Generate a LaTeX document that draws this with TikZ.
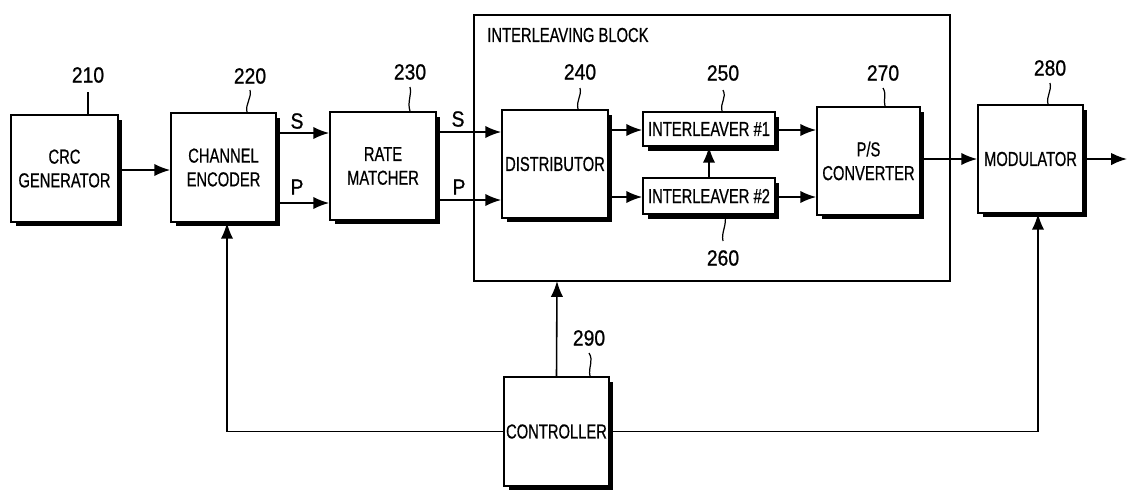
\documentclass[tikz,border=0pt]{standalone}
\usepackage{fontspec}
\setmainfont{Liberation Sans}
\newfontfamily\cond[FakeStretch=0.73,FakeBold=0.6]{Liberation Sans}
\newfontfamily\numf[FakeStretch=0.88,FakeBold=0.8]{Liberation Sans}
\usetikzlibrary{arrows.meta,shadows}
\tikzset{
  blk/.style={draw, line width=1pt, fill=white, inner sep=1pt, align=center,
    font=\cond\fontsize{11.5}{13.5}\selectfont,
    drop shadow={shadow xshift=0.09cm, shadow yshift=-0.09cm, opacity=1, fill=black}},
  arr/.style={line width=0.9pt, -{Latex[length=9pt,width=7pt]}},
  num/.style={font=\numf\fontsize{12.5}{12}\selectfont, inner sep=0pt},
  sig/.style={font=\numf\fontsize{12.5}{12}\selectfont, inner sep=0pt},
  lead/.style={line width=0.7pt},
}
\begin{document}
\begin{tikzpicture}[x=0.02cm,y=-0.02cm]
\useasboundingbox (0,0) rectangle (1130,491);
% interleaving block
\draw[line width=0.7pt] (474,15) rectangle (950,281);
\node[anchor=west, inner sep=0pt, font=\cond\fontsize{11.5}{12}\selectfont] (ibl) at (487,35) {INTERLEAVING BLOCK};
\coordinate (iblk) at (557,281);
% boxes
\node[blk, minimum width=2.14cm, minimum height=2.14cm] (crc) at (64.5,168.5) {CRC\\GENERATOR};
\node[blk, minimum width=2.1cm, minimum height=2.18cm] (enc) at (223.5,167.5) {CHANNEL\\ENCODER};
\node[blk, minimum width=2.12cm, minimum height=2.16cm] (rate) at (383,166) {RATE\\MATCHER};
\node[blk, minimum width=2.12cm, minimum height=2.16cm] (dist) at (555,164) {DISTRIBUTOR};
\node[blk, minimum width=2.64cm, minimum height=0.68cm] (il1) at (709,129) {INTERLEAVER \#1};
\node[blk, minimum width=2.64cm, minimum height=0.72cm] (il2) at (709,196) {INTERLEAVER \#2};
\node[blk, minimum width=2.06cm, minimum height=2.16cm] (ps) at (868.5,161) {P/S\\CONVERTER};
\node[blk, minimum width=2.1cm, minimum height=2.16cm] (mod) at (1030.5,159) {MODULATOR};
\node[blk, minimum width=2.1cm, minimum height=2.18cm] (ctrl) at (556.5,431.5) {CONTROLLER};
% reference numbers
\node[num] (n210) at (88,75) {210};
\node[num] (n220) at (250,76) {220};
\node[num] (n230) at (410,72) {230};
\node[num] (n240) at (580,72) {240};
\node[num] (n250) at (723,73) {250};
\node[num] (n260) at (723,258) {260};
\node[num] (n270) at (883,73) {270};
\node[num] (n280) at (1050,68) {280};
\node[num] (n290) at (589,338) {290};
\draw[lead] (n210.south |- 0,92) -- (crc.north -| 88,0);
\draw[lead] (n220.south |- 0,90) .. controls (252,98) and (245,104) .. (enc.north -| 247,0);
\draw[lead] (n230.south |- 0,87) .. controls (412,95) and (407,102) .. (rate.north -| 410,0);
\draw[lead] (n240.south |- 0,88) .. controls (582,96) and (576,100) .. (dist.north -| 578,0);
\draw[lead] (n250.south |- 0,90) .. controls (727,98) and (720,102) .. (il1.north -| 722,0);
\draw[lead] (il2.south -| 725,0) .. controls (727,226) and (721,232) .. (n260.north |- 0,241);
\draw[lead] (n270.south |- 0,88) .. controls (887,95) and (883,99) .. (ps.north -| 885,0);
\draw[lead] (n280.south |- 0,83) .. controls (1052,91) and (1046,96) .. (mod.north -| 1048,0);
\draw[lead] (n290.south |- 0,353) .. controls (594,361) and (588,367) .. (ctrl.north -| 590,0);
% signal labels
\node[sig] (s1) at (297,121) {S};
\node[sig] (p1) at (297,187) {P};
\node[sig] (s2) at (458,119) {S};
\node[sig] (p2) at (459,187) {P};
% connectors
\draw[arr] (crc.east |- 0,170) -- (enc.west |- 0,170);
\draw[arr] (enc.east |- 0,133) -- (rate.west |- 0,133);
\draw[arr] (enc.east |- 0,203) -- (rate.west |- 0,203);
\draw[arr] (rate.east |- 0,132) -- (dist.west |- 0,132);
\draw[arr] (rate.east |- 0,200) -- (dist.west |- 0,200);
\draw[arr] (dist.east |- 0,130) -- (il1.west |- 0,130);
\draw[arr] (dist.east |- 0,197) -- (il2.west |- 0,197);
\draw[arr] (il2.north) -- (il1.south);
\draw[arr] (il1.east |- 0,130) -- (ps.west |- 0,130);
\draw[arr] (il2.east |- 0,197) -- (ps.west |- 0,197);
\draw[arr] (ps.east |- 0,159) -- (mod.west |- 0,159);
\coordinate (out) at (1127,159);
\draw[arr] (mod.east |- 0,159) -- (out);
\draw[arr] (ctrl.north) -- (iblk);
\draw[arr] (ctrl.west) -| (enc.south -| 227,0);
\draw[arr] (ctrl.east) -| (mod.south -| 1038,0);
\end{tikzpicture}
\end{document}
